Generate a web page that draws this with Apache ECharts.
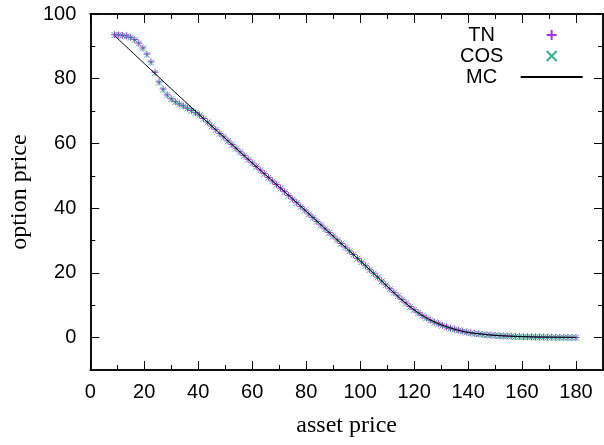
<!DOCTYPE html>
<html>
<head>
<meta charset="utf-8">
<script src="https://cdn.jsdelivr.net/npm/echarts@6/dist/echarts.min.js"></script>
<style>
  html, body { margin: 0; padding: 0; background: #fff; }
  #main { width: 604px; height: 445px; }
</style>
</head>
<body>
<div id="main"></div>
<script>
// asset prices where TN / COS were evaluated
var assetPrice = [
  9, 10.5, 12, 13.5, 15, 16.5, 18, 19.5, 21, 22.5, 24, 25.5, 27, 28.5, 30, 31.5, 33, 34.5, 36, 37.5,
  39, 40.5, 42, 43.5, 45, 46.5, 48, 49.5, 51, 52.5, 54, 55.5, 57, 58.5, 60, 61.5, 63, 64.5, 66, 67.5,
  69, 70.5, 72, 73.5, 75, 76.5, 78, 79.5, 81, 82.5, 84, 85.5, 87, 88.5, 90, 91.5, 93, 94.5, 96, 97.5,
  99, 100.5, 102, 103.5, 105, 106.5, 108, 109.5, 111, 112.5, 114, 115.5, 117, 118.5, 120, 121.5, 123, 124.5, 126, 127.5,
  129, 130.5, 132, 133.5, 135, 136.5, 138, 139.5, 141, 142.5, 144, 145.5, 147, 148.5, 150, 151.5, 153, 154.5, 156, 157.5,
  159, 160.5, 162, 163.5, 165, 166.5, 168, 169.5, 171, 172.5, 174, 175.5, 177, 178.5, 180
];
var tnPrice = [
  93.6, 93.5, 93.4, 93.2, 92.8, 92.1, 91.0, 89.5, 87.6, 85.2, 82.0, 79.0, 76.8, 75.0, 73.8, 72.9, 72.2, 71.6, 70.9, 70.2,
  69.5, 68.8, 67.7, 66.6, 65.4, 64.3, 63.1, 62.0, 60.8, 59.7, 58.5, 57.4, 56.3, 55.1, 54.0, 52.9, 51.8, 50.7, 49.5, 48.4,
  47.3, 46.2, 45.1, 43.9, 42.8, 41.7, 40.5, 39.4, 38.2, 37.1, 35.9, 34.8, 33.6, 32.5, 31.4, 30.2, 29.1, 28.0, 26.8, 25.7,
  24.5, 23.4, 22.2, 21.0, 19.9, 18.7, 17.5, 16.3, 15.1, 14.0, 12.9, 11.8, 10.7, 9.6, 8.6, 7.7, 6.9, 6.1, 5.4, 4.8,
  4.3, 3.8, 3.3, 2.9, 2.6, 2.3, 2.0, 1.7, 1.5, 1.3, 1.2, 1.0, 0.9, 0.8, 0.7, 0.6, 0.55, 0.5, 0.45, 0.4,
  0.35, 0.3, 0.27, 0.24, 0.21, 0.19, 0.17, 0.15, 0.13, 0.12, 0.1, 0.09, 0.08, 0.07, 0.06
];
// COS lies on top of TN at this scale
var cosPrice = [
  93.5, 93.5, 93.3, 93.1, 92.7, 92.0, 90.9, 89.4, 87.4, 85.0, 81.8, 78.8, 76.6, 74.9, 73.7, 72.8, 72.1, 71.5, 70.8, 70.1,
  69.4, 68.7, 67.6, 66.5, 65.3, 64.2, 63.0, 61.9, 60.7, 59.6, 58.4, 57.3, 56.2, 55.0, 53.9, 52.8, 51.7, 50.6, 49.4, 48.3,
  47.2, 46.1, 45.0, 43.8, 42.7, 41.6, 40.4, 39.3, 38.1, 37.0, 35.8, 34.7, 33.5, 32.4, 31.3, 30.1, 29.0, 27.9, 26.7, 25.6,
  24.4, 23.3, 22.1, 20.9, 19.8, 18.6, 17.4, 16.2, 15.0, 13.9, 12.8, 11.7, 10.6, 9.5, 8.5, 7.6, 6.8, 6.0, 5.3, 4.7,
  4.2, 3.7, 3.2, 2.8, 2.5, 2.2, 1.9, 1.6, 1.4, 1.2, 1.1, 0.9, 0.8, 0.7, 0.6, 0.5, 0.45, 0.4, 0.35, 0.3,
  0.25, 0.2, 0.17, 0.14, 0.11, 0.09, 0.07, 0.05, 0.03, 0.02, 0.0, 0.0, 0.0, 0.0, 0.0
];
// Monte Carlo reference curve
var mcAsset = [9, 20, 30, 40, 50, 60, 70, 80, 90, 100, 105, 110, 115, 120, 125, 130, 135, 140, 145, 150, 160, 170, 180];
var mcPrice = [93.3, 84.7, 76.9, 69.2, 61.6, 54.0, 46.6, 39.1, 31.4, 23.8, 19.9, 15.9, 12.0, 8.6, 5.9, 4.0, 2.6, 1.6, 1.1, 0.7, 0.3, 0.15, 0.07];

var xMajorTicks = [0, 20, 40, 60, 80, 100, 120, 140, 160, 180];
var xMinorTicks = [10, 30, 50, 70, 90, 110, 130, 150, 170];
var yMajorTicks = [0, 20, 40, 60, 80, 100];
var yMinorTicks = [10, 30, 50, 70, 90];

function pairs(xs, ys) {
  return xs.map(function (x, i) { return [x, ys[i]]; });
}

var myChart = echarts.init(document.getElementById('main'));

var lineStyle = { color: '#000', width: 1.5 };
var tickStyle = { color: '#000', width: 1 };

function xAx(pos, ticks, len, labels, extra) {
  var a = {
    type: 'value', position: pos, min: 0, max: 190,
    axisLine: { show: true, onZero: false, lineStyle: lineStyle },
    axisTick: { show: true, inside: true, length: len, customValues: ticks, lineStyle: tickStyle },
    axisLabel: labels ? {
      show: true, customValues: ticks, margin: 12,
      fontFamily: 'Liberation Sans', fontSize: 20, color: '#000'
    } : { show: false },
    splitLine: { show: false }
  };
  return Object.assign(a, extra || {});
}
function yAx(pos, ticks, len, labels, extra) {
  var a = {
    type: 'value', position: pos, min: -10, max: 100,
    axisLine: { show: true, onZero: false, lineStyle: lineStyle },
    axisTick: { show: true, inside: true, length: len, customValues: ticks, lineStyle: tickStyle },
    axisLabel: labels ? {
      show: true, customValues: ticks, margin: 14,
      fontFamily: 'Liberation Sans', fontSize: 20, color: '#000'
    } : { show: false },
    splitLine: { show: false }
  };
  return Object.assign(a, extra || {});
}

var option = {
  animation: false,
  backgroundColor: '#fff',
  grid: { left: 89, right: 1, top: 14, bottom: 75 },
  legend: {
    orient: 'vertical', left: 455, top: 20, align: 'right',
    itemWidth: 62, itemHeight: 10, itemGap: 1,
    data: ['TN', 'COS', { name: 'MC', itemStyle: { opacity: 0 } }],
    formatter: function (name) { return '{a|' + name + '}'; },
    textStyle: {
      rich: { a: { width: 40, padding: [0, 14, 0, 0], align: 'center',
        fontFamily: 'Liberation Sans', fontSize: 20, color: '#000', lineHeight: 20 } }
    }
  },
  xAxis: [
    xAx('bottom', xMajorTicks, 9, true, {
      name: 'asset price', nameLocation: 'middle', nameGap: 44,
      nameTextStyle: { fontFamily: 'Liberation Serif', fontSize: 24, color: '#000' }
    }),
    xAx('bottom', xMinorTicks, 5, false),
    xAx('top', xMajorTicks, 9, false),
    xAx('top', xMinorTicks, 5, false)
  ],
  yAxis: [
    yAx('left', yMajorTicks, 9, true, {
      name: 'option price', nameLocation: 'middle', nameGap: 55,
      nameTextStyle: { fontFamily: 'Liberation Serif', fontSize: 24, color: '#000' }
    }),
    yAx('left', yMinorTicks, 5, false),
    yAx('right', yMajorTicks, 9, false),
    yAx('right', yMinorTicks, 5, false)
  ],
  series: [
    {
      name: 'TN', type: 'scatter', xAxisIndex: 0, yAxisIndex: 0,
      symbol: 'path://M5,0L5,10M0,5L10,5', symbolSize: 7,
      itemStyle: { color: 'rgba(0,0,0,0)', borderColor: '#9400d3', borderWidth: 1 },
      data: pairs(assetPrice, tnPrice)
    },
    {
      name: 'COS', type: 'scatter', xAxisIndex: 0, yAxisIndex: 0,
      symbol: 'path://M0,0L10,10M10,0L0,10', symbolSize: 6,
      itemStyle: { color: 'rgba(0,0,0,0)', borderColor: '#009e73', borderWidth: 1 },
      data: pairs(assetPrice, cosPrice)
    },
    {
      name: 'MC', type: 'line', xAxisIndex: 0, yAxisIndex: 0,
      symbol: 'none', smooth: 0.3,
      lineStyle: { color: '#000', width: 1 },
      itemStyle: { color: '#000' },
      data: pairs(mcAsset, mcPrice)
    }
  ]
};

myChart.setOption(option);
</script>
</body>
</html>
